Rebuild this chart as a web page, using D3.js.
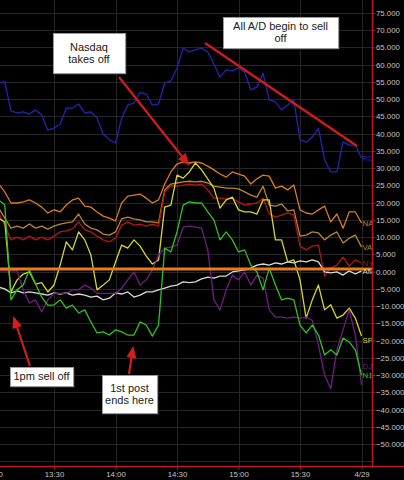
<!DOCTYPE html>
<html>
<head>
<meta charset="utf-8">
<title>A/D lines</title>
<style>
body { margin: 0; background: #000; }
svg { display: block; background: #000; }
.tick text, .slabel { font-family: 'Liberation Sans', Arial, sans-serif; font-size: 7.8px; }
.tick text { fill: #c4c4c4; }
.note text { font-family: 'Liberation Sans', Arial, sans-serif; font-size: 11px; fill: #1a1a1a; }
</style>
</head>
<body>
<svg width="404" height="480"></svg>
<script src="https://d3js.org/d3.v7.min.js"></script>
<script>
// minutes after 13:00
var times = [0,3,6,9,12,15,18,21,24,27,30,33,36,39,42,45,48,51,54,57,60,
  63,66,69,72,75,78,81,84,87,90,93,96,99,102,105,108,111,114,117,120,
  123,126,129,132,135,138,141,144,147,150,153,156,159,162,165,168,171,174,177,180];

var rdi = [54.7,54.7,55,46.6,46,46.3,45.7,46.9,45.4,41,41.6,42.8,47.4,47.4,48.6,46,46.3,44.5,39.9,38.2,37.3,
  44.5,48.3,48.9,52,51.5,48.3,48.6,54.7,55.3,59,64.8,63.7,64.3,64.8,63.7,60.2,56.4,58.5,58.2,59,
  57.9,52.7,53.5,57.5,49.8,49.2,46.9,48.3,49.8,38.2,37.6,39,41.6,32.4,28.9,28.9,37.6,36.7,36.7,32.9];
var na = [25.7,25.4,23.1,19.9,19.9,20.2,20.8,19.9,18.7,17,17.9,17.3,19.3,20.8,21.3,19,18.7,17.3,16.1,15.5,14.7,
  19.9,21.9,22.2,22.5,21.3,19.9,20.8,25.4,28.9,31.2,31.8,31.5,31.8,31.5,30.6,29.5,28.3,27.4,28.9,28.3,
  27.7,25.4,26.9,28,27.7,24.2,24.8,23.7,25.1,17.9,17,16.7,17.9,19,14.4,16.7,12.6,17.3,17.3,14.1];
var val = [19.3,18.4,15.5,12.6,13.2,12.6,13.8,12.6,13.2,12.3,13.2,13.8,14.1,14.4,16.7,13.8,12.6,12.1,10.9,10.6,11.5,
  15.3,15.8,15.3,15,14.4,14.4,14.1,23.7,25.4,25.7,26,26.2,26,26.2,25.7,24.8,24.5,24.2,24.2,24,
  23.1,22.2,21.6,24.8,19.3,19,19.6,17.6,17.9,10.3,10.6,11.5,11.2,9.2,10.6,11.5,8.3,9.7,10.6,7.1];
var ny = [17.8,17,13.5,9.2,10,9.2,10.3,9.2,10,9.2,10.3,11.5,11.8,12.4,14.4,12.1,11.5,10.3,9.2,8.6,9.7,
  13.5,14.4,13.5,13.8,13.2,13.8,13.2,23.1,24.8,24.8,25.1,25.4,25.1,25.4,23.7,21.3,21.3,21.1,21.3,20.2,
  19.3,19.6,19.9,21.3,16.7,15.8,16.4,17,16.4,7.4,6.3,7.4,7.7,-1.3,1,1.9,4.2,1.6,3.4,2.5];
var am = [-4.5,-4.5,-5,-6.2,-5.6,-6.2,-5.9,-6.2,-6.5,-6.8,-6.2,-6.5,-6.2,-6.8,-6.5,-6.8,-7.4,-7.1,-8.2,-7.7,-6.2,
  -6.5,-5.9,-7.4,-6.8,-5.9,-5.9,-5.3,-4.8,-4.2,-3.9,-3,-3.2,-3,-2.1,-1.6,-1.9,-1.3,-1.3,-0.1,0.2,
  0.5,1,1.9,2.2,1.9,2.5,2.2,2.8,2.5,3.1,2.8,3.4,2.8,-0.1,-0.4,-0.1,-1,0.2,-0.7,0.2];
var sp = [16.1,15.5,14.4,-5.9,-2.4,-0.7,-0.1,-3.6,-3.2,-5.9,-3.9,1.9,8.6,6.3,11.5,9.2,4.8,-5.3,-3.9,-2.4,2.8,
  7.7,6.8,9.2,7.4,4.5,2.2,3.4,18.7,19.3,28,27.1,28.9,31.5,29.5,26.9,24.2,18.4,20.8,21.6,17.9,
  17.3,17.3,16.7,20.8,20.8,9.2,9.2,2.8,3.4,-2.4,-13.5,-8.2,-3.9,-11.1,-9.6,-13.5,-12.6,-10.6,-13.5,-18.7];
var dj = [0.5,0.2,0.2,0.2,0.2,-5.3,-9.1,-8.2,-11.7,-8.2,-6.3,-6.3,-6.3,-5.3,-5.3,-3.9,-4.8,-6.3,-6.3,-6.3,-6.3,
  -4.8,-2.4,-0.1,-3.9,-2.4,0.5,4.8,6.8,7.1,7.7,12.9,13.2,12.9,12.6,6.3,-8.2,-11.1,-5.3,-1,-2.4,
  -0.1,-3.9,-1,-1.9,-11.1,-13.2,-13.2,-13.5,-13.2,-13.5,-13.2,-14.1,-21.3,-30,-34,-22.7,-16.9,-11.1,-18.4,-32.9];
var n1 = [17.8,20.8,19.3,-8.2,-5.3,-3.9,0.5,-3.6,-7.4,-9.7,-9.7,-8.2,-10.6,-9.7,-12,-11.1,-14.6,-17.8,-17.5,-18.4,-16.9,
  -17.5,-18.4,-18.4,-14.6,-15.5,-18.7,-15.5,6.8,5.7,11.5,19.3,20.2,19.9,19.9,17.3,15,9.2,11.5,9.2,5.7,
  6.3,1.9,-0.1,-5.3,1,-3.9,-8.2,-7.7,-8.2,-15.5,-17.8,-15.5,-18.4,-24.2,-22.7,-24.2,-19.3,-20.4,-22.7,-30];

var seriesNames = ["RDI", "NA", "VAL", "NY", "AM", "SP", "DJI", "N1"];
var seriesValues = [rdi, na, val, ny, am, sp, dj, n1];
var refLevel = 0.75;

var xTicks = [0, 30, 60, 90, 120, 150, 180];
var xTickLabels = ["13:00", "13:30", "14:00", "14:30", "15:00", "15:30", "4/29"];
var yTicks = [-50,-45,-40,-35,-30,-25,-20,-15,-10,-5,0,5,10,15,20,25,30,35,40,45,50,55,60,65,70,75];

var colors = {
  RDI: "#2424b4", NA: "#d97c22", VAL: "#b8862e", NY: "#b41616",
  AM: "#d8d8d8", SP: "#d6d631", DJI: "#731c86", N1: "#2ec41e"
};
var labelNudge = { DJI: -19, SP: 4 };

var svg = d3.select("svg"),
    axisX = 372.5,
    axisY = 466.5;

var x = d3.scaleLinear().domain([0, 180]).range([-7.5, 361.5]);
var y = d3.scaleLinear().domain([-50, 75]).range([444, 13]);

svg.append("defs").append("clipPath").attr("id", "plot")
  .append("rect").attr("x", 0).attr("y", 0).attr("width", axisX).attr("height", axisY);

// grid
var grid = svg.append("g").attr("clip-path", "url(#plot)");
grid.selectAll("line.h")
  .data(d3.range(-55, 81, 5))
  .enter().append("line")
    .attr("x1", 0).attr("x2", axisX)
    .attr("y1", function(d) { return Math.round(y(d)) + 0.5; })
    .attr("y2", function(d) { return Math.round(y(d)) + 0.5; })
    .attr("stroke", "#262626");
grid.selectAll("line.v")
  .data(xTicks)
  .enter().append("line")
    .attr("x1", function(d) { return Math.round(x(d)) + 0.5; })
    .attr("x2", function(d) { return Math.round(x(d)) + 0.5; })
    .attr("y1", 0).attr("y2", axisY)
    .attr("stroke", "#262626");

// series
var line = d3.line()
    .x(function(d, i) { return x(times[i]); })
    .y(function(d) { return y(d); });

var plot = svg.append("g").attr("clip-path", "url(#plot)");
plot.selectAll("path.s")
  .data(seriesNames)
  .enter().append("path")
    .attr("fill", "none")
    .attr("stroke", function(d) { return colors[d]; })
    .attr("stroke-width", 1.3)
    .attr("stroke-linejoin", "round")
    .attr("d", function(d, i) { return line(seriesValues[i]); });

plot.append("line")
    .attr("x1", 0).attr("x2", axisX)
    .attr("y1", y(refLevel)).attr("y2", y(refLevel))
    .attr("stroke", "#e47c22")
    .attr("stroke-width", 3);

plot.selectAll("text.slabel")
  .data(seriesNames)
  .enter().append("text")
    .attr("class", "slabel")
    .attr("x", x(180) + 1)
    .attr("y", function(d, i) { return y(seriesValues[i][seriesValues[i].length - 1]) + (labelNudge[d] || 0); })
    .attr("dy", "0.35em")
    .attr("fill", function(d) { return colors[d]; })
    .text(function(d) { return d; });

// axes
var yAxis = svg.append("g")
    .attr("transform", "translate(" + axisX + ",0)")
    .call(d3.axisRight(y).tickValues(yTicks).tickFormat(d3.format(".3f")).tickSize(3).tickPadding(0.5).tickSizeOuter(0));
yAxis.select(".domain").remove();
yAxis.selectAll(".tick line").attr("stroke", "#c01818");

var xAxis = svg.append("g")
    .attr("transform", "translate(0," + axisY + ")")
    .call(d3.axisBottom(x).tickValues(xTicks)
      .tickFormat(function(d, i) { return xTickLabels[i]; })
      .tickSize(3).tickPadding(2).tickSizeOuter(0));
xAxis.select(".domain").remove();
xAxis.selectAll(".tick line").attr("stroke", "#c01818");

svg.append("line")
    .attr("x1", axisX).attr("x2", axisX).attr("y1", 0).attr("y2", axisY)
    .attr("stroke", "#c01818").attr("stroke-width", 1.5);
svg.append("line")
    .attr("x1", 0).attr("x2", 404).attr("y1", axisY).attr("y2", axisY)
    .attr("stroke", "#c01818").attr("stroke-width", 1.5);

// annotations
function arrow(x1, y1, x2, y2, head) {
  svg.append("line")
      .attr("x1", x1).attr("y1", y1).attr("x2", x2).attr("y2", y2)
      .attr("stroke", "#d41c1c").attr("stroke-width", 2.2);
  if (!head) return;
  var a = Math.atan2(y2 - y1, x2 - x1), L = 10, W = 5;
  var bx = x2 - L * Math.cos(a), by = y2 - L * Math.sin(a);
  svg.append("polygon")
      .attr("points", [
        [x2 + 2 * Math.cos(a), y2 + 2 * Math.sin(a)],
        [bx + W * Math.sin(a), by - W * Math.cos(a)],
        [bx - W * Math.sin(a), by + W * Math.cos(a)]
      ].map(function(p) { return p.join(","); }).join(" "))
      .attr("fill", "#d41c1c");
}

function note(x0, y0, w, h, lines, cy) {
  var g = svg.append("g").attr("class", "note");
  g.append("rect")
      .attr("x", x0 + 1.5).attr("y", y0 + 1.5).attr("width", w).attr("height", h)
      .attr("fill", "#3a3a3a");
  g.append("rect")
      .attr("x", x0 + 0.5).attr("y", y0 + 0.5).attr("width", w).attr("height", h)
      .attr("fill", "#fff").attr("stroke", "#9a9a9a");
  g.selectAll("text").data(lines).enter().append("text")
      .attr("x", x0 + w / 2)
      .attr("y", function(d, i) { return cy + i * 12.5; })
      .attr("dy", "0.35em")
      .attr("text-anchor", "middle")
      .text(function(d) { return d; });
}

arrow(119, 77, 188, 164, true);
arrow(205, 43, 357, 146, false);
arrow(30, 366, 14, 318, true);
arrow(129, 374, 133, 348, true);

note(53, 33, 72, 40, ["Nasdaq", "takes off"], 47);
note(223, 17, 115, 31, ["All A/D begin to sell", "off"], 26);
note(10, 367, 63, 19, ["1pm sell off"], 376.5);
note(102, 375, 55, 38, ["1st post", "ends here"], 388);
</script>
</body>
</html>
